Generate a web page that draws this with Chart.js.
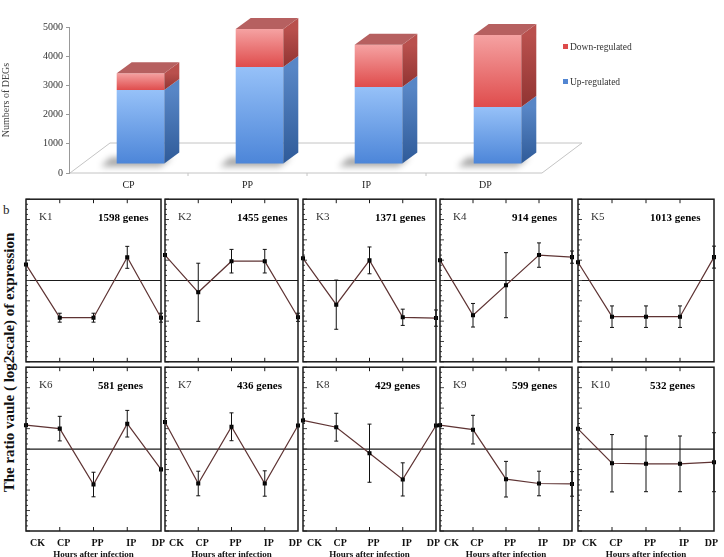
<!DOCTYPE html>
<html>
<head>
<meta charset="utf-8">
<script src="https://cdn.jsdelivr.net/npm/chart.js@4/dist/chart.umd.min.js"></script>
<style>
  body { margin: 0; background: #fff; }
  #page { position: relative; width: 724px; height: 557px; overflow: hidden; background: #fff; }
  #page canvas { position: absolute; }
  .lbl { position: absolute; font-family: 'Liberation Serif', serif; color: #222; white-space: nowrap; }
</style>
</head>
<body>
<div id="page">
  <canvas id="degs" width="724" height="195" style="left:0;top:0"></canvas>
  <div class="lbl" style="left:3px;top:202px;font-size:13px">b</div>
  <div class="lbl" style="left:-141px;top:354px;width:300px;text-align:center;font-size:15px;font-weight:bold;color:#111;transform:rotate(-90deg)">The ratio vaule ( log2scale) of expression</div>
</div>
<script>
const SERIF = "'Liberation Serif', 'Times New Roman', serif";

// top chart: numbers of DEGs
const stages = ['CP', 'PP', 'IP', 'DP'];
const upRegulated = [2530, 3320, 2640, 1950];
const downRegulated = [580, 1300, 1440, 2470];

// bottom: cluster expression profiles
const hours = ['CK', 'CP', 'PP', 'IP', 'DP'];
const clusterNames = ['K1', 'K2', 'K3', 'K4', 'K5', 'K6', 'K7', 'K8', 'K9', 'K10'];
const geneCounts = [1598, 1455, 1371, 914, 1013, 581, 436, 429, 599, 532];
const k1 = [0.79, -1.83, -1.83, 1.14, -1.83];   const k1Err = [0, 0.22, 0.22, 0.54, 0.22];
const k2 = [1.25, -0.58, 0.95, 0.95, -1.81];    const k2Err = [0, 1.43, 0.58, 0.58, 0.2];
const k3 = [1.09, -1.19, 0.99, -1.81, -1.85];   const k3Err = [0, 1.21, 0.66, 0.4, 0.4];
const k4 = [1.0, -1.71, -0.23, 1.25, 1.15];     const k4Err = [0, 0.58, 1.6, 0.6, 0.3];
const k5 = [0.9, -1.78, -1.78, -1.78, 1.15];    const k5Err = [0, 0.53, 0.53, 0.53, 0.54];
const k6 = [1.17, 1.0, -1.73, 1.24, -0.99];     const k6Err = [0, 0.6, 0.6, 0.65, 0];
const k7 = [1.32, -1.68, 1.09, -1.68, 1.15];    const k7Err = [0, 0.6, 0.68, 0.62, 0];
const k8 = [1.4, 1.07, -0.2, -1.48, 1.15];      const k8Err = [0, 0.68, 1.42, 0.81, 0];
const k9 = [1.17, 0.95, -1.47, -1.68, -1.7];    const k9Err = [0, 0.7, 0.87, 0.6, 0.6];
const k10 = [0.99, -0.69, -0.72, -0.72, -0.64]; const k10Err = [0, 1.4, 1.36, 1.36, 1.44];

const clusterMeans = [k1, k2, k3, k4, k5, k6, k7, k8, k9, k10];
const clusterErrs = [k1Err, k2Err, k3Err, k4Err, k5Err, k6Err, k7Err, k8Err, k9Err, k10Err];

// 3d look for the bars
const DX = 12, DY = -9, SX = 15, SY = -11;

function faceGradient(light, dark) {
  return function (c) {
    const chart = c.chart;
    const ys = chart.scales.y;
    if (!ys || !chart.chartArea || c.type !== 'data') return dark;
    let lo = 0;
    for (let i = 0; i < c.datasetIndex; i++) lo += chart.data.datasets[i].data[c.dataIndex];
    const hi = lo + c.raw;
    const y0 = ys.getPixelForValue(hi), y1 = ys.getPixelForValue(lo);
    if (!isFinite(y0) || !isFinite(y1) || y0 === y1) return dark;
    const g = chart.ctx.createLinearGradient(0, y0, 0, y1);
    g.addColorStop(0, light);
    g.addColorStop(1, dark);
    return g;
  };
}

const box3d = {
  id: 'box3d',
  beforeDatasetsDraw(chart) {
    const ctx = chart.ctx, a = chart.chartArea;
    ctx.save();
    ctx.strokeStyle = '#c4c4c4';
    ctx.lineWidth = 1;
    ctx.beginPath();
    ctx.moveTo(a.left + 1, a.bottom);
    ctx.lineTo(a.right - 3, a.bottom);
    ctx.lineTo(a.right + 37, a.bottom - 30);
    ctx.lineTo(a.left + 41, a.bottom - 30);
    ctx.closePath();
    ctx.stroke();
    const xs = chart.scales.x;
    for (let i = 1; i < stages.length; i++) {
      const x = (xs.getPixelForTick(i - 1) + xs.getPixelForTick(i)) / 2;
      ctx.beginPath();
      ctx.moveTo(x, a.bottom);
      ctx.lineTo(x, a.bottom + 3);
      ctx.stroke();
    }
    ctx.filter = 'blur(3px)';
    ctx.fillStyle = 'rgba(0,0,0,0.35)';
    chart.getDatasetMeta(0).data.forEach(function (b) {
      const p = b.getProps(['x', 'base', 'width'], true);
      const L = p.x - p.width / 2 + DX, R = L + p.width, bt = p.base + DY;
      ctx.beginPath();
      ctx.moveTo(L - 16, bt + 3);
      ctx.lineTo(R - 4, bt + 3);
      ctx.lineTo(R + 8, bt - 6);
      ctx.lineTo(L - 6, bt - 6);
      ctx.closePath();
      ctx.fill();
    });
    ctx.restore();
    ctx.save();
    ctx.translate(DX, DY);
  },
  afterDatasetsDraw(chart) {
    const ctx = chart.ctx;
    ctx.restore();
    const sets = chart.data.datasets;
    sets.forEach(function (ds, i) {
      chart.getDatasetMeta(i).data.forEach(function (b) {
        const p = b.getProps(['x', 'y', 'base', 'width'], true);
        const L = p.x - p.width / 2 + DX, R = L + p.width;
        const t = p.y + DY, bt = p.base + DY;
        const g = ctx.createLinearGradient(0, t, 0, bt);
        g.addColorStop(0, ds.sideLight);
        g.addColorStop(1, ds.sideDark);
        ctx.fillStyle = g;
        ctx.beginPath();
        ctx.moveTo(R, t);
        ctx.lineTo(R + SX, t + SY);
        ctx.lineTo(R + SX, bt + SY);
        ctx.lineTo(R, bt);
        ctx.closePath();
        ctx.fill();
        if (i === sets.length - 1) {
          ctx.fillStyle = ds.topColor;
          ctx.beginPath();
          ctx.moveTo(L, t);
          ctx.lineTo(L + SX, t + SY);
          ctx.lineTo(R + SX, t + SY);
          ctx.lineTo(R, t);
          ctx.closePath();
          ctx.fill();
        }
      });
    });
    // legend
    ctx.save();
    ctx.font = '9.5px ' + SERIF;
    ctx.textBaseline = 'middle';
    const rows = [[sets[1], 47], [sets[0], 82]];
    rows.forEach(function (r) {
      ctx.fillStyle = r[0].legendColor;
      ctx.fillRect(563, r[1] - 3, 5, 5);
      ctx.fillStyle = '#333';
      ctx.fillText(r[0].label, 570, r[1]);
    });
    ctx.restore();
  }
};

new Chart(document.getElementById('degs'), {
  type: 'bar',
  data: {
    labels: stages,
    datasets: [
      { label: 'Up-regulated', data: upRegulated,
        backgroundColor: faceGradient('#96c1f8', '#4c85d8'),
        sideLight: '#5886c6', sideDark: '#2f5b99', topColor: '#7aa6e0', legendColor: '#5286d2' },
      { label: 'Down-regulated', data: downRegulated,
        backgroundColor: faceGradient('#f5a2a2', '#df4c4c'),
        sideLight: '#b9504d', sideDark: '#913432', topColor: '#b66060', legendColor: '#dd4b4b' }
    ]
  },
  options: {
    responsive: false,
    animation: false,
    devicePixelRatio: 1,
    layout: { padding: { left: 0, right: 179, top: 27, bottom: 0 } },
    datasets: { bar: { barPercentage: 0.4, categoryPercentage: 1, borderWidth: 0, clip: false } },
    plugins: { legend: { display: false }, tooltip: { enabled: false } },
    scales: {
      x: {
        stacked: true,
        grid: { display: false, drawTicks: false },
        border: { display: false },
        ticks: { font: { family: SERIF, size: 10 }, color: '#222', padding: 6 },
        afterFit: function (s) { s.height = 22; }
      },
      y: {
        stacked: true, min: 0, max: 5000,
        ticks: { stepSize: 500, font: { family: SERIF, size: 10 }, color: '#333', padding: 3,
                 callback: function (v) { return String(v); } },
        grid: { drawOnChartArea: false, tickLength: 3, color: '#999' },
        border: { color: '#999' },
        title: { display: true, text: 'Numbers of DEGs', font: { family: SERIF, size: 10 }, color: '#444', padding: { top: 0, bottom: 0 } },
        afterFit: function (s) { s.width = 69; }
      }
    }
  },
  plugins: [box3d]
});

// cluster panels
const frameLeft = [26, 165, 303, 440, 578];
const frameRight = [161, 298, 436, 572, 714];

const panelDecor = {
  id: 'panel',
  beforeDatasetsDraw(chart, args, opts) {
    const ctx = chart.ctx, a = chart.chartArea;
    const xs = chart.scales.x, ys = chart.scales.y;
    ctx.save();
    ctx.strokeStyle = '#1a1a1a';
    ctx.lineWidth = 1.2;
    const y0 = ys.getPixelForValue(0);
    ctx.beginPath();
    ctx.moveTo(a.left, y0);
    ctx.lineTo(a.right, y0);
    ctx.stroke();
    ctx.lineWidth = 1;
    for (let i = 1; i < hours.length - 1; i++) {
      const x = xs.getPixelForTick(i);
      ctx.beginPath();
      ctx.moveTo(x, a.top); ctx.lineTo(x, a.top + 4);
      ctx.moveTo(x, a.bottom); ctx.lineTo(x, a.bottom - 4);
      ctx.stroke();
    }
    ctx.strokeStyle = '#444';
    for (let v = -4; v <= 4.001; v += 0.25) {
      const y = ys.getPixelForValue(v);
      const len = Math.abs(v - Math.round(v)) < 0.01 ? 4 : 2;
      ctx.beginPath();
      ctx.moveTo(a.left, y); ctx.lineTo(a.left + len, y);
      ctx.stroke();
    }
    ctx.restore();
  },
  afterDatasetsDraw(chart, args, opts) {
    const ctx = chart.ctx, a = chart.chartArea, ys = chart.scales.y;
    const data = chart.data.datasets[0].data;
    ctx.save();
    ctx.strokeStyle = '#111';
    ctx.lineWidth = 1;
    chart.getDatasetMeta(0).data.forEach(function (pt, i) {
      const e = opts.errors[i];
      if (!e) return;
      const t = ys.getPixelForValue(data[i] + e), b = ys.getPixelForValue(data[i] - e);
      ctx.beginPath();
      ctx.moveTo(pt.x, t); ctx.lineTo(pt.x, b);
      ctx.moveTo(pt.x - 2, t); ctx.lineTo(pt.x + 2, t);
      ctx.moveTo(pt.x - 2, b); ctx.lineTo(pt.x + 2, b);
      ctx.stroke();
    });
    ctx.strokeStyle = '#1a1a1a';
    ctx.lineWidth = 1.5;
    ctx.strokeRect(a.left, a.top, a.right - a.left, a.bottom - a.top);
    ctx.textBaseline = 'middle';
    ctx.fillStyle = '#333';
    ctx.font = '11px ' + SERIF;
    ctx.fillText(opts.name, a.left + 13, a.top + 18);
    ctx.fillStyle = '#000';
    ctx.font = 'bold 11px ' + SERIF;
    ctx.fillText(opts.genes + ' genes', a.left + 72, a.top + 19);
    ctx.restore();
  }
};

function makePanel(idx) {
  const row = idx < 5 ? 0 : 1, col = idx % 5;
  const left = frameLeft[col], right = frameRight[col];
  const cv = document.createElement('canvas');
  cv.width = right - left + 28;
  cv.height = row === 0 ? 173 : 200;
  cv.style.left = (left - 14) + 'px';
  cv.style.top = (row === 0 ? 194 : 362) + 'px';
  document.getElementById('page').appendChild(cv);
  new Chart(cv, {
    type: 'line',
    data: {
      labels: hours,
      datasets: [{
        data: clusterMeans[idx],
        borderColor: '#5e3333',
        borderWidth: 1.2,
        tension: 0,
        clip: false,
        pointStyle: 'rect',
        pointRadius: 2,
        pointBackgroundColor: '#000',
        pointBorderColor: '#000'
      }]
    },
    options: {
      responsive: false,
      animation: false,
      devicePixelRatio: 1,
      layout: { padding: { left: 14, right: 14, top: 5, bottom: row === 0 ? 5 : 0 } },
      plugins: {
        legend: { display: false },
        tooltip: { enabled: false },
        panel: { errors: clusterErrs[idx], name: clusterNames[idx], genes: geneCounts[idx] }
      },
      scales: {
        x: {
          type: 'category',
          offset: false,
          display: row === 1,
          grid: { display: false, drawTicks: false },
          border: { display: false },
          ticks: { font: { family: SERIF, size: 10, weight: 'bold' }, color: '#111', padding: 6,
                   align: 'inner', labelOffset: 4, autoSkip: false, maxRotation: 0 },
          title: { display: true, text: 'Hours after infection', font: { family: SERIF, size: 9, weight: 'bold' }, color: '#111', padding: { top: 2, bottom: 2 } },
          afterFit: function (s) { s.height = row === 1 ? 31 : 0; }
        },
        y: { min: -4, max: 4, display: false }
      }
    },
    plugins: [panelDecor]
  });
}

for (let i = 0; i < clusterNames.length; i++) makePanel(i);
</script>
</body>
</html>
